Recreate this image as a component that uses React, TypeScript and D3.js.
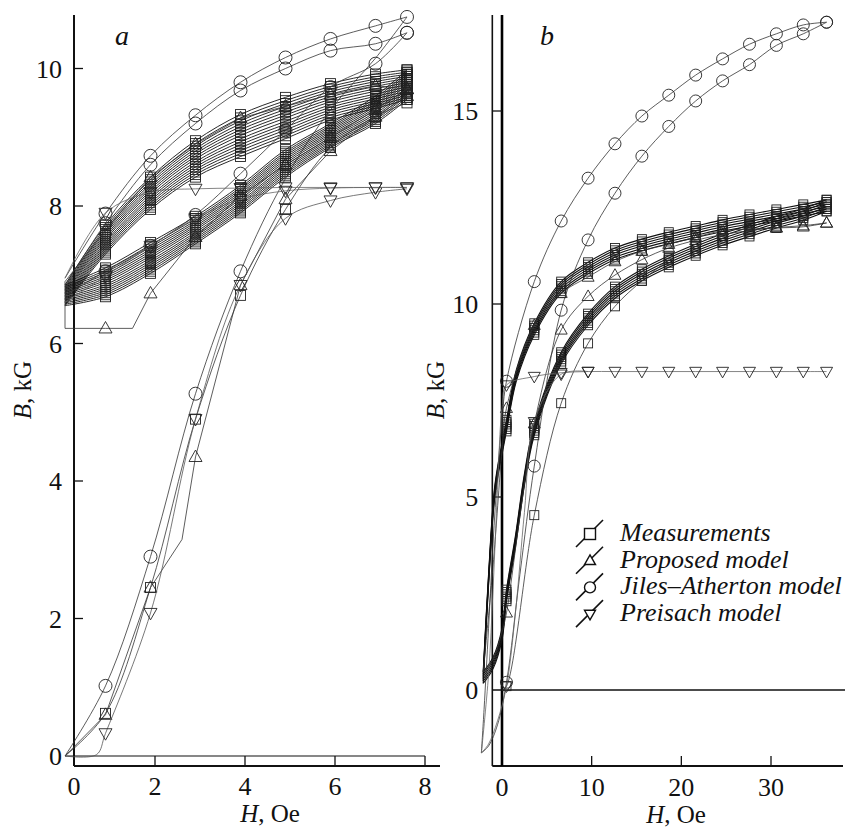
import React from "react";
import * as d3 from "d3";

const FONT = "Liberation Serif";

// ================= Panel a (H, Oe 0..8 ; B, kG 0..10) =================
const aTicksX = [0, 2, 4, 6, 8];
const aTicksY = [0, 2, 4, 6, 8, 10];
const aMarkH = [0.9, 1.9, 2.9, 3.9, 4.9, 5.9, 6.9, 7.6];
const aVirginMarkH = [0.9, 1.9, 2.9, 3.9];
const aGridH = [0, 0.9, 1.9, 2.9, 3.9, 4.9, 5.9, 6.9, 7.6];
const aGridHDesc = [7.6, 6.9, 5.9, 4.9, 3.9, 2.9, 1.9, 0.9, 0];

// Measurements
const aMeasVirginB = [0, 0.62, 2.45, 4.9, 6.7, 7.95, 8.85, 9.3, 9.5];
// band of measured minor loops (edges of the band, aligned with aGridH)
const aUpperTop = [6.85, 7.72, 8.42, 8.95, 9.33, 9.58, 9.78, 9.92, 9.98];
const aUpperBot = [6.55, 7.3, 7.95, 8.42, 8.72, 8.98, 9.25, 9.42, 9.55];
const aLowerTop = [6.85, 7.1, 7.47, 7.85, 8.3, 8.82, 9.2, 9.6, 9.98];
const aLowerBot = [6.55, 6.68, 7.02, 7.45, 7.9, 8.42, 8.85, 9.2, 9.55];
const aLoopFractions = [0, 0.07, 0.14, 0.21, 0.28, 0.35, 0.42, 0.5, 0.57, 0.64, 0.71, 0.78, 0.85, 0.92, 1];

// Proposed model
const aPropVirginH = [0, 0.9, 1.9, 2.6, 2.9, 3.9, 4.9, 5.9, 6.9, 7.6];
const aPropVirginB = [0, 0.6, 2.45, 3.15, 4.35, 6.85, 8.1, 8.8, 9.3, 9.6];
const aPropLoopH = [7.6, 6.9, 5.9, 4.9, 3.9, 2.9, 1.9, 0.9, 0, 0, 0.9, 1.5, 1.9, 2.9, 3.9, 4.9, 5.9, 6.9, 7.6];
const aPropLoopB = [9.7, 9.75, 9.62, 9.45, 9.28, 8.9, 8.42, 7.65, 6.9, 6.22, 6.22, 6.22, 6.73, 7.55, 8.15, 8.6, 9.0, 9.4, 9.7];

// Jiles–Atherton
const aJAVirginB = [0, 1.02, 2.9, 5.27, 7.05, 8.4, 9.4, 10.15, 10.75];
const aJAUpperOuterB = [10.75, 10.62, 10.43, 10.16, 9.8, 9.32, 8.73, 7.89, 6.95];
const aJAUpperInnerB = [10.52, 10.36, 10.26, 10.0, 9.68, 9.2, 8.6, 7.75, 6.85];
const aJALowerB = [6.7, 7.05, 7.42, 7.87, 8.47, 9.1, 9.73, 10.07, 10.52];

// Preisach
const aPreVirginH = [0, 0.7, 0.9, 1.9, 2.9, 3.9, 4.9, 5.9, 6.9, 7.6];
const aPreVirginB = [0, 0.02, 0.33, 2.08, 4.9, 6.85, 7.82, 8.08, 8.2, 8.25];
const aPreUpperB = [8.27, 8.27, 8.27, 8.27, 8.26, 8.25, 8.2, 7.9, 6.95];
const aPreLowerB = [6.6, 6.98, 7.42, 7.82, 8.1, 8.22, 8.26, 8.27, 8.27];

// ================= Panel b (H, Oe ; B, kG) =================
const bTicksX = [0, 10, 20, 30];
const bTicksY = [0, 5, 10, 15];
const bMarkH = [0.5, 3.6, 6.6, 9.6, 12.6, 15.6, 18.6, 21.6, 24.6, 27.6, 30.6, 33.6, 36.2];

const bMeasDescH = [36.2, 33.6, 30.6, 27.6, 24.6, 21.6, 18.6, 15.6, 12.6, 9.6, 6.6, 3.6, 1.6, 0.5, 0, -0.8, -1.5, -2.1];
const bMeasDescB = [12.7, 12.58, 12.45, 12.32, 12.18, 12.02, 11.86, 11.68, 11.45, 11.08, 10.58, 9.5, 8.3, 7.0, 6.4, 5.3, 3.0, 0.47];
const bMeasAscH = [-2.1, -1.0, 0, 0.5, 1.5, 2.5, 3.6, 6.6, 9.6, 12.6, 15.6, 18.6, 21.6, 24.6, 27.6, 30.6, 33.6, 36.2];
const bMeasAscB = [0.47, 0.85, 1.6, 2.6, 4.0, 5.6, 6.9, 8.75, 9.75, 10.45, 10.9, 11.25, 11.55, 11.82, 12.05, 12.27, 12.47, 12.7];
const bLoopOffsets = [0, -0.06, -0.12, -0.18, -0.24, -0.3];
const bMeasVirginH = [0, 0.5, 3.6, 6.6, 9.6, 12.6, 15.6, 18.6];
const bMeasVirginB = [0, 0.1, 4.53, 7.43, 8.98, 9.94, 10.6, 11.15];

const bPropDescH = [36.2, 33.6, 30.6, 27.6, 24.6, 21.6, 18.6, 15.6, 12.6, 9.6, 6.6, 3.6, 0.5, 0, -1.0, -2.1];
const bPropDescB = [12.1, 12.0, 11.97, 11.94, 11.9, 11.73, 11.55, 11.37, 11.1, 10.7, 10.28, 9.45, 7.3, 6.2, 3.2, 0.47];
const bPropAscH = [-2.1, -1.0, 0, 0.5, 2.0, 3.6, 6.6, 9.6, 12.6, 15.6, 18.6, 21.6, 24.6, 27.6, 30.6, 33.6, 36.2];
const bPropAscB = [0.47, 0.8, 1.5, 2.0, 4.5, 6.9, 9.33, 10.2, 10.75, 11.15, 11.45, 11.65, 11.8, 11.9, 11.98, 12.03, 12.1];

const bJADescH = [36.2, 33.6, 30.6, 27.6, 24.6, 21.6, 18.6, 15.6, 12.6, 9.6, 6.6, 3.6, 0.5, 0, -0.5, -1.0, -1.5, -2.0, -2.3];
const bJADescB = [17.3, 17.23, 17.0, 16.73, 16.35, 15.93, 15.41, 14.87, 14.15, 13.26, 12.15, 10.58, 8.0, 7.0, 5.6, 3.8, 1.6, -0.5, -1.63];
const bJAAscH = [-2.3, -1.5, -0.5, 0.5, 2.0, 3.6, 6.6, 9.6, 12.6, 15.6, 18.6, 21.6, 24.6, 27.6, 30.6, 33.6, 36.2];
const bJAAscB = [-1.63, -1.45, -0.9, 0.2, 3.0, 5.8, 9.84, 11.66, 12.87, 13.83, 14.6, 15.26, 15.78, 16.2, 16.7, 17.0, 17.3];

const bPreDescH = [36.2, 33.6, 30.6, 27.6, 24.6, 21.6, 18.6, 15.6, 12.6, 9.6, 6.6, 3.6, 0.5, 0, -0.5, -1.0, -1.5, -2.3];
const bPreDescB = [8.25, 8.25, 8.25, 8.25, 8.25, 8.25, 8.25, 8.25, 8.25, 8.25, 8.22, 8.12, 7.9, 7.3, 5.2, 2.6, 0.4, -1.63];
const bPreAscH = [-2.3, -1.5, -0.5, 0.5, 1.5, 2.5, 3.6, 6.6, 9.6];
const bPreAscB = [-1.63, -1.4, -0.8, 0.1, 2.0, 4.6, 6.95, 8.18, 8.25];

// Legend
const legendLabels = ["Measurements", "Proposed model", "Jiles\u2013Atherton model", "Preisach model"];
const legendSymbols = ["square", "tri", "circle", "dtri"];

type Sym = "square" | "tri" | "circle" | "dtri";
interface Series {
  h: number[];
  b: number[];
  sym: Sym;
  marks?: number[];
  stroke?: string;
  sw?: number;
  linear?: boolean;
}

function Marker({ t, x, y, s }: { t: string; x: number; y: number; s: number }) {
  if (t === "square") return <rect x={x - s / 2} y={y - s / 2} width={s} height={s} />;
  if (t === "circle") return <circle cx={x} cy={y} r={s / 2} />;
  const h = s * 0.88;
  if (t === "tri")
    return <path d={`M${x},${y - h * 0.6}L${x + s / 2},${y + h * 0.4}L${x - s / 2},${y + h * 0.4}Z`} />;
  return <path d={`M${x},${y + h * 0.6}L${x + s / 2},${y - h * 0.4}L${x - s / 2},${y - h * 0.4}Z`} />;
}

function SeriesView({
  s,
  xs,
  ys,
  sizes,
}: {
  s: Series;
  xs: d3.ScaleLinear<number, number>;
  ys: d3.ScaleLinear<number, number>;
  sizes: Record<string, number>;
}) {
  const pts: [number, number][] = s.h.map((h, i) => [h, s.b[i]]);
  const line = d3
    .line<[number, number]>()
    .x((d) => xs(d[0]))
    .y((d) => ys(d[1]))
    .curve(s.linear ? d3.curveLinear : d3.curveCatmullRom.alpha(0.5));
  const marks = s.marks || [];
  const mpts = pts.filter((p) => marks.some((m) => Math.abs(m - p[0]) < 1e-6));
  return (
    <g>
      <path d={line(pts) || ""} fill="none" stroke={s.stroke || "#333"} strokeWidth={s.sw || 0.8} />
      <g fill="none" stroke="#222" strokeWidth={0.9}>
        {mpts.map((p, i) => (
          <Marker key={i} t={s.sym} x={xs(p[0])} y={ys(p[1])} s={sizes[s.sym]} />
        ))}
      </g>
    </g>
  );
}

const TOP = 15;
const BOTTOM = 766;

function T(props: any) {
  const { children, style, ...rest } = props;
  return (
    <text fontFamily={FONT} style={{ fontFamily: '"Liberation Serif"', ...(style || {}) }} {...rest}>
      {children}
    </text>
  );
}

function PanelA() {
  const xs = d3.scaleLinear().domain([0, 8]).range([65, 425]);
  const ys = d3.scaleLinear().domain([0, 10]).range([756, 68.5]);
  const axisX = xs(0.2);
  const sizes = { square: 10, circle: 13, tri: 13, dtri: 13 };

  const series: Series[] = [];
  aLoopFractions.forEach((f) => {
    const lower = aLowerBot.map((v, i) => v + f * (aLowerTop[i] - v));
    const upper = aUpperBot.map((v, i) => v + f * (aUpperTop[i] - v));
    series.push({
      h: [...aGridH, ...aGridHDesc],
      b: [...lower, ...upper.slice().reverse()],
      sym: "square",
      marks: aMarkH,
      stroke: "#111",
      sw: 0.9,
    });
  });
  series.push({ h: aGridH, b: aMeasVirginB, sym: "square", marks: aMarkH });
  series.push({ h: aPropVirginH, b: aPropVirginB, sym: "tri", marks: aMarkH, linear: true });
  series.push({ h: aPropLoopH, b: aPropLoopB, sym: "tri", marks: aMarkH, linear: true });
  series.push({ h: aGridH, b: aJAVirginB, sym: "circle", marks: aVirginMarkH });
  series.push({ h: aGridHDesc, b: aJAUpperOuterB, sym: "circle", marks: aMarkH });
  series.push({ h: aGridHDesc, b: aJAUpperInnerB, sym: "circle", marks: aMarkH });
  series.push({ h: aGridH, b: aJALowerB, sym: "circle", marks: aMarkH });
  series.push({ h: aPreVirginH, b: aPreVirginB, sym: "dtri", marks: aMarkH, stroke: "#555" });
  series.push({ h: aGridHDesc, b: aPreUpperB, sym: "dtri", marks: aMarkH, stroke: "#666" });
  series.push({ h: aGridH, b: aPreLowerB, sym: "dtri", marks: aMarkH, stroke: "#666" });

  return (
    <g>
      <line x1={xs(0)} x2={xs(8)} y1={ys(0)} y2={ys(0)} stroke="#111" strokeWidth={1.2} />
      <line x1={axisX} x2={440} y1={BOTTOM} y2={BOTTOM} stroke="#111" strokeWidth={2} />
      {aTicksX.filter((v) => v > 0).map((v) => (
        <line key={v} x1={xs(v)} x2={xs(v)} y1={BOTTOM} y2={ys(0)} stroke="#111" strokeWidth={1.3} />
      ))}
      <line x1={axisX} x2={axisX} y1={TOP} y2={BOTTOM} stroke="#111" strokeWidth={2} />
      {aTicksY.filter((v) => v > 0).map((v) => (
        <line key={v} x1={axisX} x2={axisX + 9} y1={ys(v)} y2={ys(v)} stroke="#111" strokeWidth={1.3} />
      ))}
      <g fill="#111">
        {aTicksY.map((v) => (
          <T key={v} x={axisX - 12} y={ys(v)} dy="0.35em" textAnchor="end" fontSize={26}>
            {v}
          </T>
        ))}
        {aTicksX.map((v) => (
          <T key={v} x={v === 0 ? axisX : xs(v)} y={795} textAnchor="middle" fontSize={26}>
            {v}
          </T>
        ))}
        <T x={270} y={822} textAnchor="middle" fontSize={25}>
          <tspan fontStyle="italic">H</tspan>, Oe
        </T>
        <T transform="translate(22,390) rotate(-90)" textAnchor="middle" dominantBaseline="central" fontSize={25}>
          <tspan fontStyle="italic">B</tspan>, kG
        </T>
        <T x={115} y={45} fontStyle="italic" fontSize={28}>
          a
        </T>
      </g>
      {series.map((s, i) => (
        <SeriesView key={i} s={s} xs={xs} ys={ys} sizes={sizes} />
      ))}
    </g>
  );
}

function PanelB() {
  const xs = d3.scaleLinear().domain([0, 30]).range([502, 771]);
  const ys = d3.scaleLinear().domain([0, 15]).range([690, 111]);
  const axisX = xs(-1.08);
  const sizes = { square: 9, circle: 12, tri: 12, dtri: 12 };

  const series: Series[] = [];
  bLoopOffsets.forEach((o) => {
    series.push({
      h: [...bMeasAscH, ...bMeasDescH],
      b: [...bMeasAscB.map((v) => v + o), ...bMeasDescB.map((v) => v + o)],
      sym: "square",
      marks: bMarkH,
      stroke: "#111",
      sw: 1.1,
    });
  });
  series.push({ h: bMeasVirginH, b: bMeasVirginB, sym: "square", marks: bMarkH });
  series.push({ h: [...bPropAscH, ...bPropDescH], b: [...bPropAscB, ...bPropDescB], sym: "tri", marks: bMarkH });
  series.push({ h: bJADescH, b: bJADescB, sym: "circle", marks: bMarkH });
  series.push({ h: bJAAscH, b: bJAAscB, sym: "circle", marks: bMarkH });
  series.push({ h: bPreDescH, b: bPreDescB, sym: "dtri", marks: bMarkH, stroke: "#666" });
  series.push({ h: bPreAscH, b: bPreAscB, sym: "dtri", marks: bMarkH, stroke: "#666" });

  return (
    <g>
      <line x1={axisX} x2={845} y1={ys(0)} y2={ys(0)} stroke="#111" strokeWidth={1.3} />
      <line x1={axisX} x2={843} y1={BOTTOM} y2={BOTTOM} stroke="#111" strokeWidth={2} />
      {bTicksX.filter((v) => v > 0).map((v) => (
        <line key={v} x1={xs(v)} x2={xs(v)} y1={BOTTOM} y2={BOTTOM - 10} stroke="#111" strokeWidth={1.3} />
      ))}
      <line x1={axisX} x2={axisX} y1={TOP} y2={BOTTOM} stroke="#111" strokeWidth={1.6} />
      <line x1={xs(0)} x2={xs(0)} y1={TOP} y2={BOTTOM} stroke="#000" strokeWidth={2.6} />
      {bTicksY.filter((v) => v > 0).map((v) => (
        <line key={v} x1={axisX} x2={xs(0)} y1={ys(v)} y2={ys(v)} stroke="#111" strokeWidth={1.3} />
      ))}
      <g fill="#111">
        {bTicksY.map((v) => (
          <T key={v} x={axisX - 14} y={ys(v)} dy="0.35em" textAnchor="end" fontSize={26}>
            {v}
          </T>
        ))}
        {bTicksX.map((v) => (
          <T key={v} x={xs(v)} y={796} textAnchor="middle" fontSize={26}>
            {v}
          </T>
        ))}
        <T x={676} y={823} textAnchor="middle" fontSize={25}>
          <tspan fontStyle="italic">H</tspan>, Oe
        </T>
        <T transform="translate(435,390) rotate(-90)" textAnchor="middle" dominantBaseline="central" fontSize={25}>
          <tspan fontStyle="italic">B</tspan>, kG
        </T>
        <T x={540} y={45} fontStyle="italic" fontSize={28}>
          b
        </T>
      </g>
      {series.map((s, i) => (
        <SeriesView key={i} s={s} xs={xs} ys={ys} sizes={sizes} />
      ))}
      <g>
        {legendLabels.map((lab, i) => {
          const cy = 534 + i * 26.7;
          const cx = 590;
          return (
            <g key={lab}>
              <line x1={cx - 14} y1={cy + 13} x2={cx + 13} y2={cy - 14} stroke="#111" strokeWidth={1.6} />
              <g fill="white" stroke="#111" strokeWidth={1.4}>
                <Marker t={legendSymbols[i]} x={cx} y={cy} s={11} />
              </g>
              <T x={620} y={cy + 7} fontStyle="italic" fontSize={26} fill="#111">
                {lab}
              </T>
            </g>
          );
        })}
      </g>
    </g>
  );
}

export default function App() {
  return (
    <svg
      width={855}
      height={832}
      viewBox="0 0 855 832"
      style={{ position: "absolute", left: 0, top: 0, background: "#fff" }}
    >
      <style>{`text, tspan { font-family: "Liberation Serif", serif; }`}</style>
      <rect width={855} height={832} fill="#fff" />
      <PanelA />
      <PanelB />
    </svg>
  );
}
